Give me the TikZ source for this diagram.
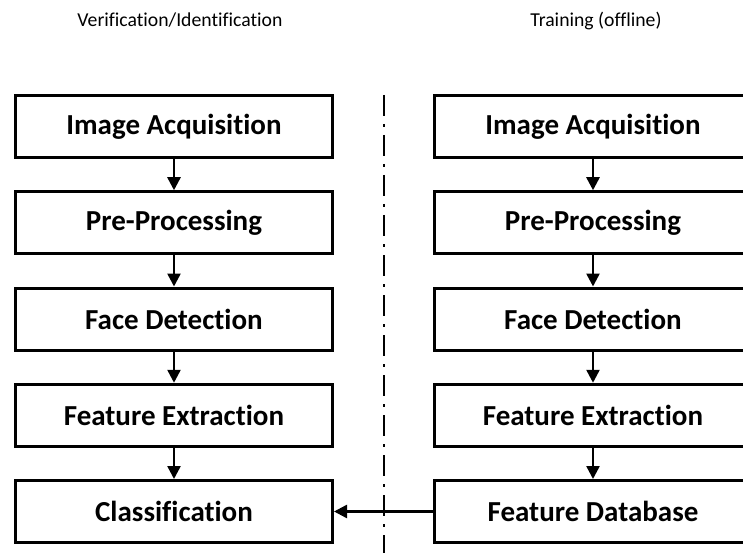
\documentclass[tikz,border=0pt]{standalone}
\usepackage{fontspec}
\setmainfont[RawFeature=-liga]{Carlito}
\usetikzlibrary{arrows.meta}
\begin{document}
\begin{tikzpicture}[x=1pt,y=-1pt,
  stepbox/.style={draw=black,line width=3pt,minimum width=317pt,minimum height=62pt,inner sep=0pt,font=\fontsize{29}{34}\selectfont\bfseries},
  title/.style={anchor=base,font=\fontsize{19.7}{24}\selectfont},
  flow/.style={line width=2.5pt,-{Triangle[length=13pt,width=13pt]}},
  sep/.style={line width=2.6pt,dash pattern=on 21pt off 8pt on 3pt off 8pt}]
\useasboundingbox (0,0) rectangle (743,553);
\clip (0,0) rectangle (743,553);
\node[title] (t1) at (180,27) {Verification/Identification};
\node[title] (t2) at (596,27) {Training (offline)};
\foreach \n/\txt [count=\i from 0] in {a/Image Acquisition,b/Pre-Processing,c/Face Detection,d/Feature Extraction,e/Classification}{
  \node[stepbox] (L\n) at (174,126.5+96.25*\i) {\txt};
}
\foreach \n/\txt [count=\i from 0] in {a/Image Acquisition,b/Pre-Processing,c/Face Detection,d/Feature Extraction,e/Feature Database}{
  \node[stepbox] (R\n) at (593,126.5+96.25*\i) {\txt};
}
\foreach \p/\q in {a/b,b/c,c/d,d/e}{
  \draw[flow] (L\p.south) -- (L\q.north);
  \draw[flow] (R\p.south) -- (R\q.north);
}
\draw[flow] (Re.west) -- (Le.east);
\coordinate (s1) at (384,95);
\coordinate (s2) at (384,553);
\draw[sep] (s1) -- (s2);
\end{tikzpicture}
\end{document}
